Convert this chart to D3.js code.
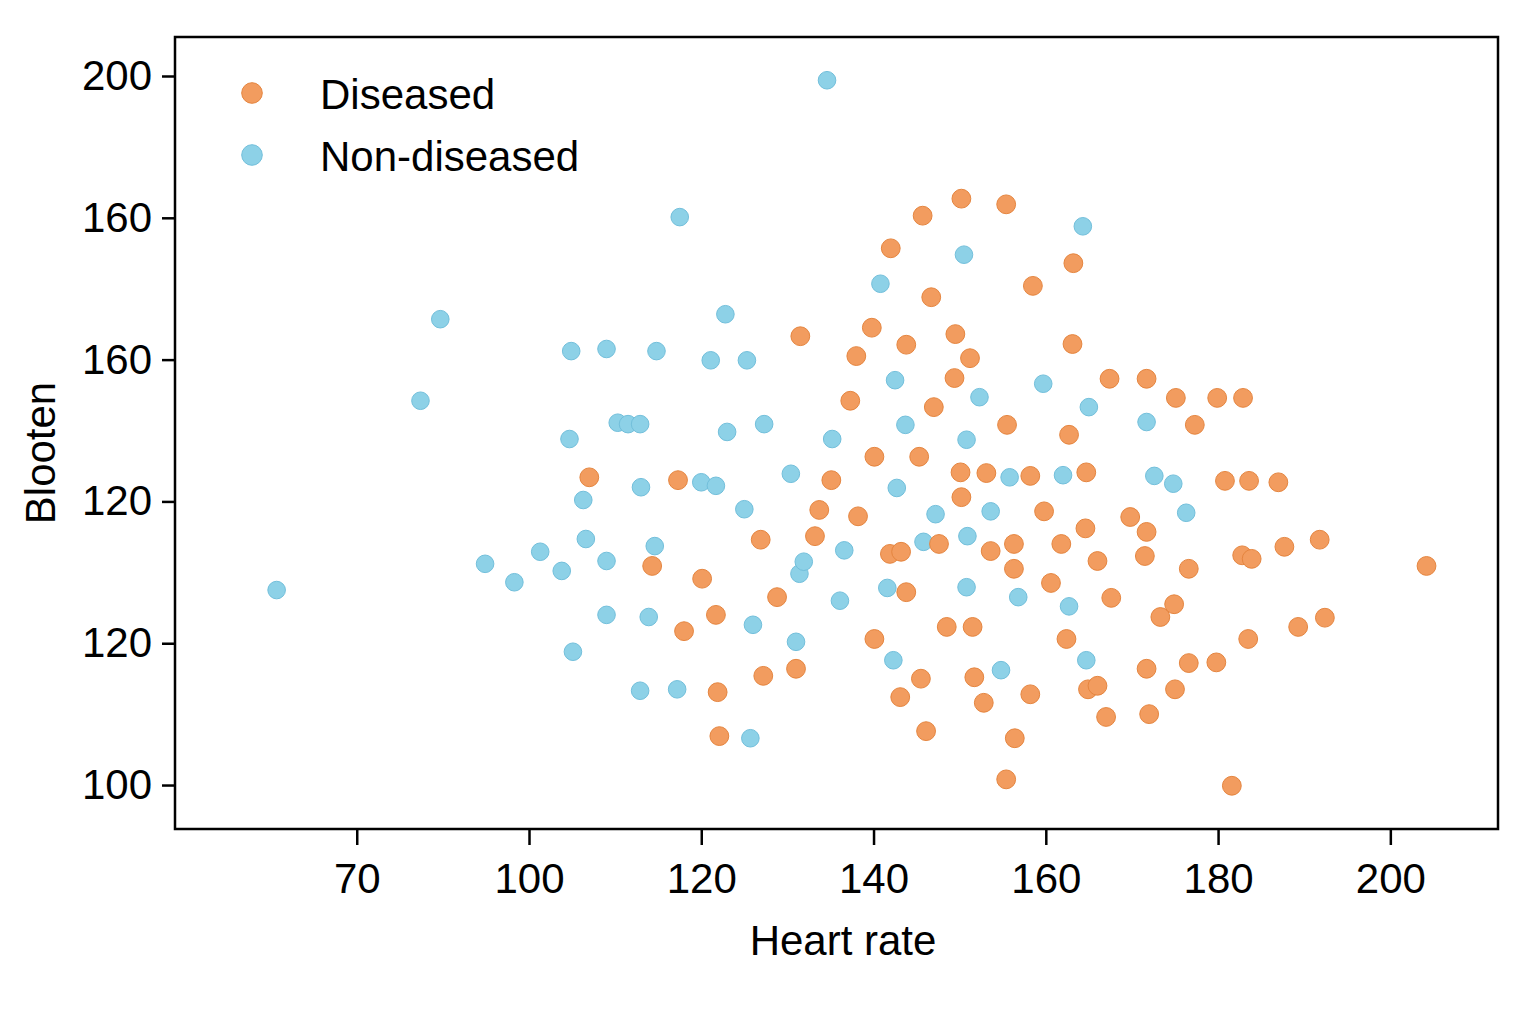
<!DOCTYPE html>
<html>
<head>
<meta charset="utf-8">
<script src="https://cdn.jsdelivr.net/npm/d3@7"></script>
<style>
  body { margin: 0; background: #fff; }
  svg { display: block; font-family: "Liberation Sans", Arial, sans-serif; }
</style>
</head>
<body>
<div id="chart"></div>
<script>
// series names as in the legend
const seriesNames = ["Diseased", "Non-diseased"];

// Diseased: heart rate and blood value
const diseasedHR = [107.0, 114.3, 117.3, 120.1, 118.0, 121.9, 121.7, 122.1, 126.9, 127.2,
  128.8, 131.0, 131.5, 133.2, 133.7, 135.1, 137.3, 138.0, 138.2, 139.8,
  140.1, 140.1, 142.0, 141.9, 143.2, 143.1, 143.8, 143.8, 145.5, 145.7,
  146.1, 146.7, 147.0, 147.6, 148.5, 145.3, 149.5, 149.4, 150.1, 150.2,
  150.2, 151.2, 151.5, 151.7, 152.8, 153.1, 153.6, 155.4, 155.4, 155.5,
  156.3, 156.3, 156.4, 158.2, 158.2, 158.5, 159.8, 160.6, 161.8, 162.4,
  162.7, 163.2, 163.1, 164.7, 164.6, 164.9, 166.0, 166.0, 167.6, 167.0,
  167.4, 169.8, 171.7, 171.7, 171.5, 171.7, 172.0, 173.3, 175.1, 174.9,
  175.0, 176.6, 176.6, 177.3, 179.9, 179.8, 180.8, 181.6, 182.8, 182.9,
  183.5, 183.6, 183.9, 187.0, 187.7, 189.3, 191.8, 192.4, 204.2];
const diseasedBP = [143.4, 130.9, 143.0, 129.1, 121.7, 113.1, 124.0, 106.9, 134.6, 115.4,
  126.5, 116.4, 163.3, 135.1, 138.8, 143.0, 154.2, 160.5, 137.9, 164.5,
  146.3, 120.6, 175.7, 132.6, 132.9, 112.4, 162.1, 127.2, 115.0, 180.3,
  107.6, 168.8, 153.3, 134.0, 122.3, 146.3, 163.6, 157.4, 144.1, 182.7,
  140.6, 160.2, 122.3, 115.2, 111.6, 144.0, 133.0, 181.9, 100.8, 150.8,
  130.5, 134.0, 106.6, 143.6, 112.8, 170.4, 138.6, 128.5, 134.0, 120.6,
  149.4, 173.6, 162.2, 144.1, 136.2, 113.5, 114.0, 131.6, 126.4, 109.6,
  157.3, 137.8, 135.7, 157.3, 132.3, 116.4, 110.0, 123.7, 154.6, 125.5,
  113.5, 130.5, 117.2, 150.8, 154.6, 117.3, 142.9, 99.9, 132.4, 154.6,
  120.6, 142.9, 131.9, 142.7, 133.6, 122.3, 134.6, 123.6, 130.9];

// Non-diseased: heart rate and blood value
const healthyHR = [70.7, 87.4, 89.7, 94.9, 98.3, 101.3, 103.8, 104.9, 104.7, 105.1,
  106.3, 106.6, 109.0, 109.0, 109.0, 110.3, 111.5, 112.9, 113.0, 112.9,
  113.9, 114.6, 114.8, 117.5, 117.2, 120.0, 121.1, 121.7, 122.8, 123.0,
  125.0, 125.3, 125.7, 126.0, 127.3, 130.4, 131.0, 131.4, 131.9, 134.6,
  135.2, 136.1, 136.6, 140.8, 141.6, 142.5, 142.3, 142.7, 143.7, 145.8,
  147.2, 150.5, 150.8, 150.9, 150.8, 152.3, 153.6, 154.8, 155.8, 156.8,
  159.7, 162.0, 162.7, 164.3, 164.7, 165.0, 171.7, 172.6, 174.8, 176.3];
const healthyBP = [127.5, 154.2, 165.7, 131.2, 128.6, 132.9, 130.2, 161.2, 148.8, 118.8,
  140.2, 134.7, 161.5, 131.6, 124.0, 151.1, 150.9, 150.9, 142.0, 113.3,
  123.7, 133.7, 161.2, 180.1, 113.5, 142.7, 159.9, 142.2, 166.4, 149.8,
  138.9, 159.9, 106.6, 122.6, 150.9, 143.9, 120.2, 129.8, 131.5, 199.4,
  148.8, 126.0, 133.1, 170.7, 127.8, 157.1, 117.6, 141.9, 150.8, 134.3,
  138.2, 174.8, 148.7, 135.1, 127.9, 154.7, 138.6, 116.2, 143.4, 126.5,
  156.6, 143.7, 125.2, 178.8, 117.6, 153.3, 151.2, 143.6, 142.5, 138.4];

// ticks and the labels printed next to them
const xTickValues = [80, 100, 120, 140, 160, 180, 200];
const xTickLabels = ["70", "100", "120", "140", "160", "180", "200"];
const yTickValues = [100, 120, 140, 160, 180, 200];
const yTickLabels = ["100", "120", "120", "160", "160", "200"];

const width = 1536, height = 1024;
const plotLeft = 175, plotRight = 1498, plotTop = 37, plotBottom = 829;
const fontSize = 42;

const colors = {
  Diseased: { fill: "#f29c5f", stroke: "#e5853f", r: 9.4 },
  "Non-diseased": { fill: "#8dd1e7", stroke: "#72bfdb", r: 8.8 },
};

const x = d3.scaleLinear().domain([58.9, 212.5]).range([plotLeft, plotRight]);
const y = d3.scaleLinear().domain([93.8, 205.5]).range([plotBottom, plotTop]);

const svg = d3
  .select("#chart")
  .append("svg")
  .attr("width", width)
  .attr("height", height)
  .attr("viewBox", [0, 0, width, height]);

svg.append("rect").attr("width", width).attr("height", height).attr("fill", "#fff");

// axes
const xAxis = d3
  .axisBottom(x)
  .tickValues(xTickValues)
  .tickFormat((d, i) => xTickLabels[i])
  .tickSize(16)
  .tickSizeOuter(0)
  .tickPadding(18);

const yAxis = d3
  .axisLeft(y)
  .tickValues(yTickValues)
  .tickFormat((d, i) => yTickLabels[i])
  .tickSize(13)
  .tickSizeOuter(0)
  .tickPadding(10);

svg
  .append("g")
  .attr("transform", `translate(0,${plotBottom})`)
  .call(xAxis)
  .call((g) => g.select(".domain").remove())
  .call((g) => g.selectAll("line").attr("stroke", "#000").attr("stroke-width", 2.5))
  .call((g) =>
    g.selectAll("text").attr("fill", "#000").attr("font-size", fontSize).attr("font-family", null)
  );

svg
  .append("g")
  .attr("transform", `translate(${plotLeft},0)`)
  .call(yAxis)
  .call((g) => g.select(".domain").remove())
  .call((g) => g.selectAll("line").attr("stroke", "#000").attr("stroke-width", 2.5))
  .call((g) =>
    g.selectAll("text").attr("fill", "#000").attr("font-size", fontSize).attr("font-family", null)
  );

// points: non-diseased underneath, diseased on top
const healthy = healthyHR.map((hr, i) => ({ hr, bp: healthyBP[i], group: "Non-diseased" }));
const diseased = diseasedHR.map((hr, i) => ({ hr, bp: diseasedBP[i], group: "Diseased" }));

svg
  .append("g")
  .selectAll("circle")
  .data(healthy.concat(diseased))
  .join("circle")
  .attr("cx", (d) => x(d.hr))
  .attr("cy", (d) => y(d.bp))
  .attr("r", (d) => colors[d.group].r)
  .attr("fill", (d) => colors[d.group].fill)
  .attr("stroke", (d) => colors[d.group].stroke)
  .attr("stroke-width", 1);

// frame
svg
  .append("rect")
  .attr("x", plotLeft)
  .attr("y", plotTop)
  .attr("width", plotRight - plotLeft)
  .attr("height", plotBottom - plotTop)
  .attr("fill", "none")
  .attr("stroke", "#000")
  .attr("stroke-width", 2.5);

// legend
const legend = svg
  .append("g")
  .selectAll("g")
  .data(seriesNames)
  .join("g")
  .attr("transform", (d, i) => `translate(252,${93 + i * 62})`);

legend
  .append("circle")
  .attr("r", 10.3)
  .attr("fill", (d) => colors[d].fill)
  .attr("stroke", (d) => colors[d].stroke)
  .attr("stroke-width", 1);

legend
  .append("text")
  .attr("x", 68)
  .attr("y", 15.5)
  .attr("font-size", fontSize)
  .attr("fill", "#000")
  .text((d) => d);

// axis titles
svg
  .append("text")
  .attr("x", 843)
  .attr("y", 955)
  .attr("text-anchor", "middle")
  .attr("font-size", fontSize)
  .text("Heart rate");

svg
  .append("text")
  .attr("transform", "translate(55,453) rotate(-90)")
  .attr("text-anchor", "middle")
  .attr("font-size", fontSize)
  .text("Blooten");
</script>
</body>
</html>
